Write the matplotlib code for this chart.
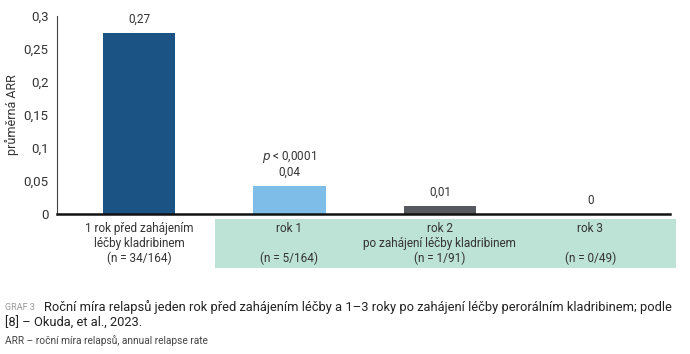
import matplotlib
matplotlib.use("Agg")
import matplotlib.pyplot as plt
from matplotlib.patches import Rectangle

plt.rcParams['font.family'] = ['Roboto', 'DejaVu Sans']

# data
groups = ["1 rok před zahájením\nléčby kladribinem\n(n = 34/164)",
          "rok 1\n\n(n = 5/164)",
          "rok 2\npo zahájení léčby kladribinem\n(n = 1/91)",
          "rok 3\n\n(n = 0/49)"]
arr = [0.275, 0.043, 0.012, 0.0]
arr_labels = ["0,27", "0,04", "0,01", "0"]
bar_colors = ["#1a5384", "#7dbde8", "#56595d", "#56595d"]
yticks = [0, 0.05, 0.1, 0.15, 0.2, 0.25, 0.3]
ytick_labels = ["0", "0,05", "0,1", "0,15", "0,2", "0,25", "0,3"]

fig = plt.figure(figsize=(6.9, 3.54), dpi=100)
ax = fig.add_axes([0.0826, 0.3955, 0.8884, 0.5593])

x = range(len(arr))
ax.bar(x, arr, width=0.48, color=bar_colors)
ax.set_xlim(-0.546, 3.53)
ax.set_ylim(0, 0.3)
ax.set_yticks(yticks)
ax.set_yticklabels(ytick_labels, fontsize=9.5, color="#333333")
ax.tick_params(axis='y', length=0, pad=6)
ax.set_xticks([])
for s in ['top', 'right']:
    ax.spines[s].set_visible(False)
ax.spines['left'].set_color("#444444")
ax.spines['left'].set_linewidth(0.8)
ax.spines['bottom'].set_color("#111111")
ax.spines['bottom'].set_linewidth(1.8)
ax.set_ylabel("průměrná ARR", fontsize=9, color="#333333", labelpad=3)

for i, v in enumerate(arr):
    ax.annotate(arr_labels[i], (i, v), xytext=(0, 5), textcoords='offset points',
                ha='center', va='bottom', fontsize=8.5, color="#333333")
ax.annotate("$p$ < 0,0001", (1, arr[1]), xytext=(0, 15), textcoords='offset points',
            ha='center', va='bottom', fontsize=8.5, color="#333333")

# green box behind the post-treatment labels
fig.patches.append(Rectangle((215 / 690, 1 - 268 / 354), 461 / 690, 49 / 354,
                             transform=fig.transFigure, facecolor="#bde2d6",
                             edgecolor='none', zorder=-1))
for i, g in enumerate(groups):
    ax.annotate(g, (i, 0), xytext=(0, -6), textcoords='offset points',
                ha='center', va='top', fontsize=8.5, color="#333333",
                linespacing=1.15, annotation_clip=False)

fig.text(5 / 690, 1 - 307 / 354, "GRAF 3", fontsize=6.5, color="#999999", va='center')
fig.text(44 / 690, 1 - 307 / 354,
         "Roční míra relapsů jeden rok před zahájením léčby a 1–3 roky po zahájení léčby perorálním kladribinem; podle",
         fontsize=9.3, color="#222222", va='center')
fig.text(5 / 690, 1 - 323 / 354, "[8] – Okuda, et al., 2023.",
         fontsize=9.3, color="#222222", va='center')
fig.text(5 / 690, 1 - 341 / 354, "ARR – roční míra relapsů, annual relapse rate",
         fontsize=7.3, color="#444444", va='center')

fig.savefig("out.png", dpi=100)
